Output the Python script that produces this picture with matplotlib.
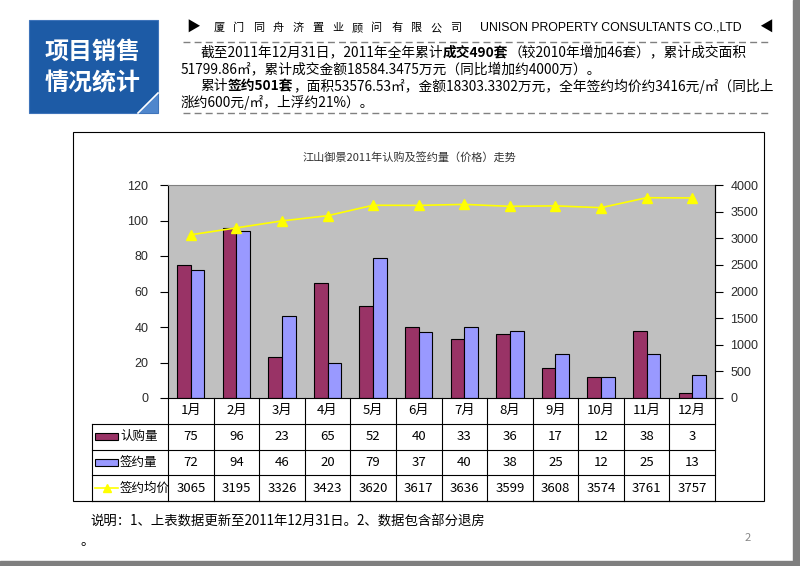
import numpy as np
import matplotlib
matplotlib.use('Agg')
import matplotlib.pyplot as plt
from matplotlib.patches import Rectangle, Polygon
from matplotlib.lines import Line2D
from matplotlib.transforms import Affine2D

plt.rcParams['font.family'] = ['Noto Sans CJK SC', 'DejaVu Sans']

# ---------------- data ----------------
months = ['1月', '2月', '3月', '4月', '5月', '6月', '7月', '8月', '9月', '10月', '11月', '12月']
subscribe = [75, 96, 23, 65, 52, 40, 33, 36, 17, 12, 38, 3]
signed = [72, 94, 46, 20, 79, 37, 40, 38, 25, 12, 25, 13]
avg_price = [3065, 3195, 3326, 3423, 3620, 3617, 3636, 3599, 3608, 3574, 3761, 3757]
series_names = ['认购量', '签约量', '签约均价']
left_ticks = [0, 20, 40, 60, 80, 100, 120]
right_ticks = [0, 500, 1000, 1500, 2000, 2500, 3000, 3500, 4000]
chart_title = '江山御景2011年认购及签约量（价格）走势'
box_title = ['项目销售', '情况统计']
company_cn = '厦门同舟济置业顾问有限公司'
company_en = 'UNISON PROPERTY CONSULTANTS CO.,LTD'
para_lines = [
    [('截至2011年12月31日，2011年全年累计', False), ('成交490套', True), ('（较2010年增加46套），累计成交面积', False)],
    [('51799.86㎡，累计成交金额18584.3475万元（同比增加约4000万）。', False)],
    [('累计', False), ('签约501套', True), ('，面积53576.53㎡，金额18303.3302万元，全年签约均价约3416元/㎡（同比上', False)],
    [('涨约600元/㎡，上浮约21%）。', False)],
]
note = '说明：1、上表数据更新至2011年12月31日。2、数据包含部分退房'

C_SUB = '#993366'
C_SIG = '#9999FF'
C_PRICE = '#FFFF00'

W, H = 800, 566
fig = plt.figure(figsize=(8, 5.66), dpi=100)
PX = Affine2D().scale(1.0 / W, -1.0 / H).translate(0, 1) + fig.transFigure
renderer = fig.canvas.get_renderer()


def ptext(x, y, s, **kw):
    return fig.text(x, y, s, transform=PX, **kw)


def fit_width(t, width):
    bb = t.get_window_extent(renderer=renderer)
    t.set_fontsize(t.get_fontsize() * width / bb.width)


# ---------------- background pieces ----------------
fig.add_artist(Rectangle((793, 0), 7, 566, transform=PX, color='#7f7f7f', zorder=0))
fig.add_artist(Rectangle((0, 561), 800, 5, transform=PX, color='#7f7f7f', zorder=0))

# blue title box
fig.add_artist(Rectangle((29, 20), 129, 93, transform=PX, facecolor='#1D5BA6', edgecolor='#3F74BA', lw=0.8))
fig.add_artist(Polygon([(138, 113), (158, 113), (158, 93)], closed=True, transform=PX,
                       facecolor='#4F86CC', edgecolor='none'))
fig.add_artist(Line2D([138, 158], [113, 93], transform=PX, color='white', lw=1.2))
for i, s in enumerate(box_title):
    t = ptext(93, 52 + i * 31, s, color='white', fontsize=17, fontweight='bold', ha='center', va='center')
    fit_width(t, 96)

# header
ptext(193, 28, '▶', fontsize=10, ha='center', va='center', color='black')
ptext(766, 28, '◀', fontsize=10, ha='center', va='center', color='black')
n = len(company_cn)
for i, ch in enumerate(company_cn):
    ptext(219 + i * (456 - 219) / (n - 1), 28, ch, fontsize=8, ha='center', va='center', color='black')
t = ptext(480, 28, company_en, fontsize=9, ha='left', va='center', color='black',
          family=['Liberation Sans', 'DejaVu Sans'])
fit_width(t, 262)

for yy in (42, 113):
    fig.add_artist(Line2D([183, 770], [yy, yy], transform=PX, color='#808080', lw=1.0,
                          linestyle=(0, (5, 3))))


# paragraph
def place_line(x0, y, pieces, fs):
    arts = []
    x = x0
    for s, bold in pieces:
        tt = ptext(x, y, s, fontsize=fs, fontweight='bold' if bold else 'normal',
                   ha='left', va='center', color='black')
        x += tt.get_window_extent(renderer=renderer).width
        arts.append(tt)
    return arts, x - x0


arts, w = place_line(200, 51, para_lines[0], 10)
for a in arts:
    a.remove()
fs = 10 * 545 / w
line_pos = [(200, 52), (181, 69), (200, 86), (181, 102)]
for (x0, y0), pieces in zip(line_pos, para_lines):
    place_line(x0, y0, pieces, fs)

# ---------------- chart frame ----------------
fig.add_artist(Rectangle((73, 132), 691, 369, transform=PX, fill=False, edgecolor='black', lw=0.8))
t = ptext(409, 157, chart_title, fontsize=8.5, ha='center', va='center', color='#333333')
fit_width(t, 214)

# ---------------- main chart ----------------
ax = fig.add_axes([168 / W, 1 - 398 / H, 547 / W, 213 / H])
x = np.arange(len(months))
bw = 0.3
ax.bar(x - bw / 2, subscribe, width=bw, color=C_SUB, edgecolor='black', lw=0.8, zorder=2)
ax.bar(x + bw / 2, signed, width=bw, color=C_SIG, edgecolor='black', lw=0.8, zorder=2)
ax.set_xlim(-0.5, len(months) - 0.5)
ax.set_ylim(0, 120)
ax.set_facecolor('#C0C0C0')
ax.set_yticks(left_ticks)
ax.set_xticks([])
ax.tick_params(axis='y', direction='out', length=6, width=0.8, pad=8, labelsize=9,
               labelcolor='#2a2a2a')
for lbl in ax.get_yticklabels():
    lbl.set_family(['Liberation Sans', 'DejaVu Sans'])
ax.spines['left'].set_color('black')
ax.spines['bottom'].set_color('black')
ax.spines['top'].set_color('#808080')
ax.spines['right'].set_color('black')
for s in ax.spines.values():
    s.set_linewidth(0.8)

ax2 = ax.twinx()
ax2.plot(x, avg_price, color=C_PRICE, lw=1.2, marker='^', ms=7, mec=C_PRICE, mfc=C_PRICE, zorder=3)
ax2.set_ylim(0, 4000)
ax2.set_yticks(right_ticks)
ax2.tick_params(axis='y', direction='out', length=6, width=0.8, pad=5, labelsize=9,
                labelcolor='#2a2a2a')
for lbl in ax2.get_yticklabels():
    lbl.set_family(['Liberation Sans', 'DejaVu Sans'])
for s in ax2.spines.values():
    s.set_visible(False)
ax2.spines['right'].set_visible(True)
ax2.spines['right'].set_color('black')
ax2.spines['right'].set_linewidth(0.8)

# ---------------- data table ----------------
tax = fig.add_axes([168 / W, 1 - 501 / H, 547 / W, 103 / H])
tax.set_xlim(-0.5, len(months) - 0.5)
tax.set_ylim(0, 4)
tax.axis('off')
unit = 547 / len(months)
xl = -0.5 - (168 - 92) / unit
lk = dict(color='black', lw=0.8, clip_on=False)
for i in range(len(months) + 1):
    tax.plot([-0.5 + i, -0.5 + i], [0, 4], **lk)
tax.plot([xl, xl], [0, 3], **lk)
for yy in (1, 2, 3):
    tax.plot([xl, len(months) - 0.5], [yy, yy], **lk)
tax.plot([xl, len(months) - 0.5], [0, 0], **lk)

fs_t = 9.5
for i, m in enumerate(months):
    tax.text(i, 3.5, m, ha='center', va='center', fontsize=fs_t, color='black')
for row_y, vals in zip((2.5, 1.5, 0.5), (subscribe, signed, avg_price)):
    for i, v in enumerate(vals):
        tax.text(i, row_y, str(v), ha='center', va='center', fontsize=fs_t, color='black')

kx0 = xl + 3 / unit
kw_ = 23 / unit
tax.add_patch(Rectangle((kx0, 2.5 - 0.14), kw_, 0.28, facecolor=C_SUB, edgecolor='black', lw=0.8, clip_on=False))
tax.add_patch(Rectangle((kx0, 1.5 - 0.14), kw_, 0.28, facecolor=C_SIG, edgecolor='black', lw=0.8, clip_on=False))
tax.plot([kx0, kx0 + kw_], [0.5, 0.5], color=C_PRICE, lw=1.2, clip_on=False)
tax.plot([kx0 + kw_ / 2], [0.5], marker='^', ms=6, color=C_PRICE, clip_on=False)
for row_y, name in zip((2.5, 1.5, 0.5), series_names):
    tax.text(kx0 + kw_ + 2 / unit, row_y, name, ha='left', va='center', fontsize=9, color='black')

# ---------------- footnote ----------------
t = ptext(90, 522, note, fontsize=fs, ha='left', va='center', color='black')
fit_width(t, 396)
ptext(80, 541, '。', fontsize=fs, ha='left', va='center', color='black')
ptext(748, 538, '2', fontsize=8, ha='center', va='center', color='#888888')

fig.savefig('out.png', dpi=100)
